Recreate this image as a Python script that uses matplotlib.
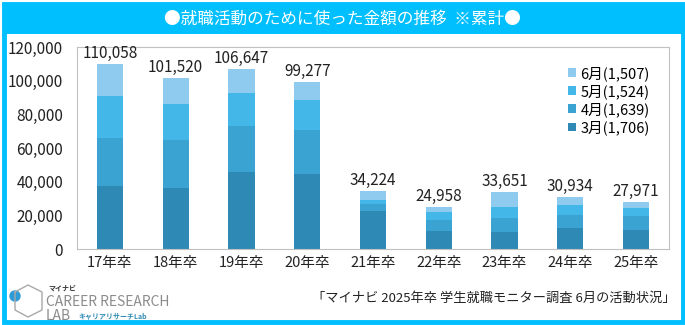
import matplotlib.pyplot as plt
from matplotlib.patches import Rectangle, Ellipse
import numpy as np

plt.rcParams['font.family'] = ['Noto Sans CJK JP', 'DejaVu Sans']

years = ['17年卒', '18年卒', '19年卒', '20年卒', '21年卒', '22年卒', '23年卒', '24年卒', '25年卒']
totals = [110058, 101520, 106647, 99277, 34224, 24958, 33651, 30934, 27971]
# cumulative amount up to each month
mar = [37200, 36100, 45500, 44300, 22500, 10600, 10000, 12400, 11200]
apr = [66200, 65000, 73300, 70900, 26800, 17100, 18300, 20100, 19500]
may = [91000, 86300, 92800, 88700, 29200, 21900, 24800, 26000, 24200]
labels = ['3月(1,706)', '4月(1,639)', '5月(1,524)', '6月(1,507)']
colors = ['#2E8AB4', '#3AA3D2', '#42B7E8', '#8FCBEE']

cum = np.array([mar, apr, may, totals])
segs = np.diff(np.vstack([np.zeros(len(years)), cum]), axis=0)

fig = plt.figure(figsize=(6.85, 3.25), dpi=100)

# frame and title banner
fig.patches.append(Rectangle((4/685, 3/325), 679/685, 318/325, transform=fig.transFigure,
                             facecolor='white', edgecolor='#00BFFF', lw=3.5, zorder=-2))
fig.patches.append(Rectangle((4/685, 1 - 34/325), 679/685, 30/325, transform=fig.transFigure,
                             facecolor='#00BFFF', edgecolor='none', zorder=-1))
fig.text(0.5, 1 - 19/325, '●就職活動のために使った金額の推移  ※累計●', color='white',
         ha='center', va='center', fontsize=12)

ax = fig.add_axes([77/685, 1 - 249/325, 592/685, 202/325])
ax.set_zorder(2)
x = np.arange(len(years))
bottom = np.zeros(len(years))
handles = []
for s, lab, c in zip(segs, labels, colors):
    h = ax.bar(x, s, 0.4, bottom=bottom, color=c, label=lab)
    handles.append(h)
    bottom += s

for xi, t in zip(x, totals):
    ax.text(xi, t + 1200, f'{t:,}', ha='center', va='bottom', fontsize=11, color='#222222')

ax.set_xlim(-0.5, len(years) - 0.5)
ax.set_ylim(0, 120000)
ax.set_yticks(range(0, 120001, 20000))
ax.set_yticklabels([f'{v:,}' for v in range(0, 120001, 20000)], fontsize=11, color='#222222')
ax.set_xticks(x)
ax.set_xticklabels(years, fontsize=10.5, color='#222222')
ax.tick_params(length=0, pad=5)
ax.tick_params(axis='y', pad=10)
for sp in ax.spines.values():
    sp.set_color('#C0C0C0')

ax.legend(handles[::-1], labels[::-1], loc='upper right', bbox_to_anchor=(0.99, 0.97),
          frameon=False, fontsize=10.5, handlelength=0.55, handleheight=0.55,
          handletextpad=0.3, labelspacing=0.22)

fig.text(676/685, 1 - 298/325, '「マイナビ 2025年卒 学生就職モニター調査 6月の活動状況」',
         ha='right', va='center', fontsize=9.5, color='#222222')

# logo
fig.text(48/685, 1 - 288/325, 'マイナビ', fontsize=5, color='#333333', weight='bold', va='center')
fig.text(46/685, 1 - 302/325, 'CAREER RESEARCH', fontsize=10, color='#8C8C8C', va='center')
fig.text(46/685, 1 - 316/325, 'LAB', fontsize=10, color='#8C8C8C', va='center')
fig.text(78/685, 1 - 316/325, 'キャリアリサーチLab', fontsize=5, color='#2E8AB4',
         weight='bold', va='center')
fig.lines.append(plt.Line2D([15/685, 28/685, 42/685, 42/685, 28/685, 15/685, 15/685],
                            [1 - 292/325, 1 - 285/325, 1 - 292/325, 1 - 310/325,
                             1 - 317/325, 1 - 310/325, 1 - 292/325],
                            transform=fig.transFigure, color='#A8A8A8', lw=1))
fig.patches.append(Ellipse((15/685, 1 - 296/325), 10/685, 10/325, transform=fig.transFigure,
                           color='#2E9BD6'))

fig.savefig('out.png', dpi=100)
